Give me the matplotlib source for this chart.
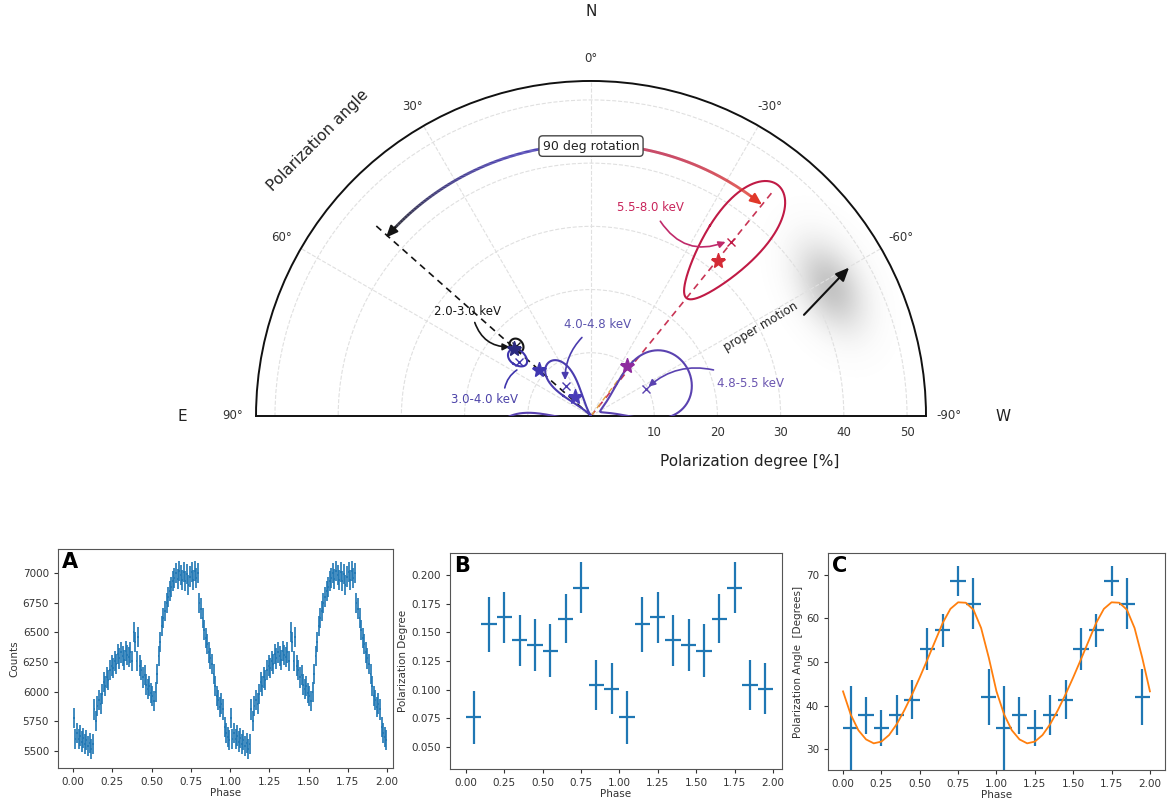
import numpy as np
import matplotlib
matplotlib.use("Agg")
import matplotlib.pyplot as plt
from matplotlib.collections import LineCollection
from matplotlib.colors import to_rgb
from matplotlib.offsetbox import OffsetImage, AnnotationBbox

# ---- polarization per energy band (PA in deg, PD in %) ----
bands = ["2.0-3.0 keV", "3.0-4.0 keV", "4.0-4.8 keV", "4.8-5.5 keV", "5.5-8.0 keV"]
band_colors = ["#151515", "#3f35ad", "#4a3cae", "#5a42b0", "#c01a45"]
label_colors = ["#151515", "#4b42a8", "#5a52ad", "#6a55b0", "#c8245a"]
meas_pa = [47.0, 53.0, 39.5, -63.7, -38.8]
meas_pd = [16.3, 14.3, 6.2, 9.7, 35.4]
model_pa = [49.0, 48.5, 40.0, -36.0, -39.3]
model_pd = [16.2, 11.0, 3.9, 9.8, 31.6]
star_colors = ["#2b2a80", "#3f36b0", "#4a3cb8", "#8e2a9e", "#d42a35"]

# confidence contours as ellipses in (PA, PD): centre PA, half-width PA, centre PD, half-width PD
cont_pa = [46.6, 51.6, 38.0, -65.0, -39.0]
cont_dpa = [3.5, 4.5, 16.0, 28.0, 7.0]
cont_pd = [16.2, 14.8, 5.4, 9.3, 35.5]
cont_dpd = [1.2, 1.7, 5.4, 7.7, 11.5]

# ---- phase-resolved data ----
lc_cycle = [5780, 5600, 5650, 5600, 5630, 5580, 5610, 5560, 5590, 5540, 5570, 5520, 5560,
            5850, 5750, 5880, 5930, 5900, 5980, 6080,
            6050, 6120, 6100, 6180, 6220, 6200, 6260, 6230, 6320, 6280,
            6330, 6300, 6270, 6340, 6310, 6290, 6330, 6260, 6500, 6420,
            6260, 6460, 6220, 6180, 6120, 6140, 6060, 6020, 6050, 5990,
            5960, 5920, 6000, 6150, 6300, 6420, 6550, 6620, 6680, 6750,
            6800, 6850, 6880, 6930, 6960, 7000, 6950, 7020, 6980, 6940,
            7010, 6930, 6990, 6900, 6970, 7010, 6940, 7020, 6960, 7000,
            6750, 6700, 6620, 6520, 6450, 6400, 6330, 6280, 6230, 6150,
            6050, 5960, 5930, 5870, 5900, 5850, 5700, 5650, 5620, 5590]
lc_err = 85

pd_cycle = [0.076, 0.157, 0.163, 0.143, 0.139, 0.134, 0.162, 0.189, 0.104, 0.101]
pd_err = [0.023, 0.024, 0.022, 0.022, 0.023, 0.023, 0.021, 0.022, 0.022, 0.022]
pa_cycle = [34.8, 37.8, 35.0, 37.8, 41.4, 52.9, 57.3, 68.6, 63.4, 42.0]
pa_err = [9.7, 4.2, 4.1, 4.6, 4.5, 4.8, 3.8, 3.4, 5.8, 6.5]

# RVM model curve, one cycle at 0.05 steps
model_phase = [0.00, 0.05, 0.10, 0.15, 0.20, 0.25, 0.30, 0.35, 0.40, 0.45,
               0.50, 0.55, 0.60, 0.65, 0.70, 0.75, 0.80, 0.85, 0.90, 0.95]
model_angle = [43.3, 38.0, 34.4, 32.3, 31.4, 31.8, 33.3, 35.8, 39.0, 42.6,
               46.5, 50.6, 54.8, 59.0, 62.2, 63.7, 63.6, 62.0, 57.8, 51.0]

fig = plt.figure(figsize=(11.68, 8.05), dpi=100)

# ================= polar plot =================
# the axes box is square; the half disc sits in its middle
ax = fig.add_axes([0.2192, 0.2752, 0.5736, 0.8323], projection="polar")
ax.set_theta_zero_location("N")
ax.set_theta_direction(1)
ax.set_thetamin(-90)
ax.set_thetamax(90)
ax.set_rlim(0, 53)
ax.set_thetagrids([-90, -60, -30, 0, 30, 60, 90],
                  labels=["-90°", "-60°", "-30°", "0°", "30°", "60°", "90°"])
ax.set_rgrids([10, 20, 30, 40, 50])
ax.grid(color="#e0e0e0", ls="--", lw=0.8)
ax.tick_params(axis="x", labelsize=8.5, colors="#333333", pad=6)
ax.tick_params(axis="y", labelsize=8.5, colors="#333333")
for sp in ax.spines.values():
    sp.set_linewidth(1.4)
    sp.set_color("#111111")

d2r = np.deg2rad

# gray smudge behind the proper motion arrow
ny, nx = 200, 190
yy, xx = np.mgrid[0:ny, 0:nx]
phi = d2r(62)
u = (xx - nx / 2) * np.cos(phi) + (yy - ny / 2) * np.sin(phi)
v = -(xx - nx / 2) * np.sin(phi) + (yy - ny / 2) * np.cos(phi)
blob = np.zeros((ny, nx, 4))
blob[..., :3] = 0.45
blob[..., 3] = 0.42 * np.exp(-0.5 * ((u / 32) ** 2 + (v / 20) ** 2))
ab = AnnotationBbox(OffsetImage(blob, zoom=0.72), (d2r(-61.5), 43.0),
                    frameon=False, pad=0, zorder=0.5)
ax.add_artist(ab)

# dashed guide lines at the low and high energy angles
ax.plot([d2r(48.5), d2r(48.5)], [0, 46], color="#151515", ls=(0, (4, 3)), lw=1.2, zorder=2)
ax.plot([d2r(-39), d2r(-39)], [0, 46], color="#c83555", ls=(0, (4, 3)), lw=1.2, zorder=2)
ax.plot([d2r(-37), d2r(-37)], [0, 11], color="#e0a040", ls=(0, (4, 3)), lw=1.0, zorder=2)

# contours
t = np.linspace(0, 2 * np.pi, 300)
for i in range(len(bands)):
    th = cont_pa[i] + cont_dpa[i] * np.cos(t)
    rr = cont_pd[i] + cont_dpd[i] * np.sin(t)
    ax.plot(d2r(th), rr, color=band_colors[i], lw=1.5, zorder=3)
    if cont_pa[i] - cont_dpa[i] < -90:
        # angles below -90 come back in at +90
        ax.plot(d2r(th + 180), rr, color=band_colors[i], lw=1.5, zorder=3)

# measured values and model stars
for i in range(len(bands)):
    ax.plot(d2r(meas_pa[i]), meas_pd[i], marker="x", ms=6, mew=1.0,
            color=band_colors[i], ls="none", zorder=4)
    ax.plot(d2r(model_pa[i]), model_pd[i], marker="*", ms=11,
            color=star_colors[i], ls="none", zorder=4)


def gradient_arc(th0, th1, c0, c1, r=43.0):
    th = d2r(np.linspace(th0, th1, 200))
    pts = np.column_stack([th, np.full_like(th, r)])
    segs = np.stack([pts[:-1], pts[1:]], axis=1)
    f = np.linspace(0, 1, len(segs))[:, None] ** 2
    cols = (1 - f) * np.array(to_rgb(c0)) + f * np.array(to_rgb(c1))
    lc = LineCollection(segs, colors=cols, lw=2.0, zorder=3)
    ax.add_collection(lc)


# 90 degree rotation arc
gradient_arc(8, 46.5, "#3f33b0", "#141420")
gradient_arc(-8, -36.5, "#b8163e", "#e0382a")
ax.annotate("", xy=(d2r(49), 43.0), xytext=(d2r(46), 43.0),
            arrowprops=dict(arrowstyle="-|>,head_length=0.7,head_width=0.3",
                            color="#141414", lw=1.5, shrinkA=0, shrinkB=0), zorder=4)
ax.annotate("", xy=(d2r(-39), 43.0), xytext=(d2r(-36), 43.0),
            arrowprops=dict(arrowstyle="-|>,head_length=0.7,head_width=0.3",
                            color="#e0382a", lw=1.5, shrinkA=0, shrinkB=0), zorder=4)
ax.text(0, 42.7, "90 deg rotation", ha="center", va="center", fontsize=9, color="#222222",
        bbox=dict(boxstyle="round,pad=0.3", fc="white", ec="#444444", lw=1.0), zorder=5)

# band labels and pointers
ax.text(d2r(-15.85), 34.3, bands[4], color=label_colors[4], fontsize=8.5, ha="center", va="center")
ax.annotate("", xy=(d2r(-37.7), 34.8), xytext=(d2r(-19.6), 32.7),
            arrowprops=dict(arrowstyle="-|>,head_length=0.4,head_width=0.2",
                            color="#c02a6a", lw=1.2, connectionstyle="arc3,rad=0.4",
                            shrinkA=0, shrinkB=0))

ax.text(d2r(-78.6), 25.7, bands[3], color=label_colors[3], fontsize=8.5, ha="center", va="center")
ax.annotate("", xy=(d2r(-63), 10.2), xytext=(d2r(-69.4), 20.7),
            arrowprops=dict(arrowstyle="-|>,head_length=0.4,head_width=0.2",
                            color="#5a42b0", lw=1.2, connectionstyle="arc3,rad=0.25",
                            shrinkA=0, shrinkB=0))

ax.text(d2r(-3.8), 14.5, bands[2], color=label_colors[2], fontsize=8.5, ha="center", va="center")
ax.annotate("", xy=(d2r(35.8), 7.0), xytext=(d2r(6.6), 12.5),
            arrowprops=dict(arrowstyle="-|>,head_length=0.4,head_width=0.2",
                            color="#4a3cae", lw=1.2, connectionstyle="arc3,rad=0.2",
                            shrinkA=0, shrinkB=0))

ax.text(d2r(81.4), 17.0, bands[1], color=label_colors[1], fontsize=8.5, ha="center", va="center")
ax.annotate("", xy=(d2r(58.2), 13.8), xytext=(d2r(72), 14.35),
            arrowprops=dict(arrowstyle="-", color="#3f35ad", lw=1.2,
                            connectionstyle="arc3,rad=-0.2", shrinkA=0, shrinkB=0))

ax.text(d2r(49.8), 25.6, bands[0], color=label_colors[0], fontsize=8.5, ha="center", va="center")
ax.annotate("", xy=(d2r(49.7), 16.9), xytext=(d2r(51.2), 23.6),
            arrowprops=dict(arrowstyle="-|>,head_length=0.4,head_width=0.2",
                            color="#151515", lw=1.2, connectionstyle="arc3,rad=0.35",
                            shrinkA=0, shrinkB=0))

# proper motion
ax.annotate("", xy=(d2r(-60.1), 47.1), xytext=(d2r(-64.6), 37.3),
            arrowprops=dict(arrowstyle="-|>,head_length=0.8,head_width=0.35",
                            color="#111111", lw=1.5, shrinkA=0, shrinkB=0), zorder=4)
ax.text(d2r(-62.2), 30.3, "proper motion", rotation=31, fontsize=8.5, color="#222222",
        ha="center", va="center")

fig.text(591 / 1168, 1 - 11 / 805, "N", ha="center", va="center", fontsize=11, color="#222222")
fig.text(182 / 1168, 1 - 416 / 805, "E", ha="center", va="center", fontsize=11, color="#222222")
fig.text(1003 / 1168, 1 - 416 / 805, "W", ha="center", va="center", fontsize=11, color="#222222")
fig.text(318 / 1168, 1 - 140 / 805, "Polarization angle", rotation=45, ha="center", va="center",
         fontsize=11, color="#222222")
fig.text(750 / 1168, 1 - 461 / 805, "Polarization degree [%]", ha="center", va="center",
         fontsize=11, color="#222222")

# ================= phase-resolved panels =================
lc_phase = np.arange(200) * 0.01 + 0.005
counts = np.array(lc_cycle + lc_cycle)
bin_phase = np.arange(20) * 0.1 + 0.05
pd_vals = np.array(pd_cycle + pd_cycle)
pd_errs = np.array(pd_err + pd_err)
pa_vals = np.array(pa_cycle + pa_cycle)
pa_errs = np.array(pa_err + pa_err)
fit_phase = np.array(model_phase + [p + 1 for p in model_phase] + [2.0])
fit_angle = np.array(model_angle + model_angle + [model_angle[0]])


def style_panel(a, letter, ylabel):
    a.tick_params(labelsize=7.5, length=3, colors="#333333")
    a.set_xlabel("Phase", fontsize=7.5, labelpad=1, color="#333333")
    a.set_ylabel(ylabel, fontsize=7.5, labelpad=2, color="#333333")
    a.set_xticks([0, 0.25, 0.5, 0.75, 1.0, 1.25, 1.5, 1.75, 2.0])
    for sp in a.spines.values():
        sp.set_color("#555555")
    a.text(0.012, 0.985, letter, transform=a.transAxes, fontsize=15, fontweight="bold",
           ha="left", va="top")


axA = fig.add_axes([0.0497, 0.0460, 0.2868, 0.2720])
axA.errorbar(lc_phase, counts, xerr=0.005, yerr=lc_err, fmt="none", ecolor="#1f77b4", elinewidth=1.2)
axA.set_xlim(-0.096, 2.038)
axA.set_ylim(5357, 7202)
axA.set_yticks([5500, 5750, 6000, 6250, 6500, 6750, 7000])
style_panel(axA, "A", "Counts")

axB = fig.add_axes([0.3853, 0.0447, 0.2842, 0.2683])
axB.errorbar(bin_phase, pd_vals, xerr=0.05, yerr=pd_errs, fmt="none", ecolor="#1f77b4", elinewidth=1.6)
axB.set_xlim(-0.104, 2.059)
axB.set_ylim(0.031, 0.219)
axB.set_yticks([0.05, 0.075, 0.1, 0.125, 0.15, 0.175, 0.2])
style_panel(axB, "B", "Polarization Degree")

axC = fig.add_axes([0.7089, 0.0435, 0.2885, 0.2696])
axC.errorbar(bin_phase, pa_vals, xerr=0.05, yerr=pa_errs, fmt="none", ecolor="#1f77b4", elinewidth=1.6)
axC.plot(fit_phase, fit_angle, color="#ff7f0e", lw=1.3)
axC.set_xlim(-0.098, 2.098)
axC.set_ylim(25.3, 75)
axC.set_yticks([30, 40, 50, 60, 70])
style_panel(axC, "C", "Polarization Angle  [Degrees]")

fig.savefig("out.png", dpi=100)
